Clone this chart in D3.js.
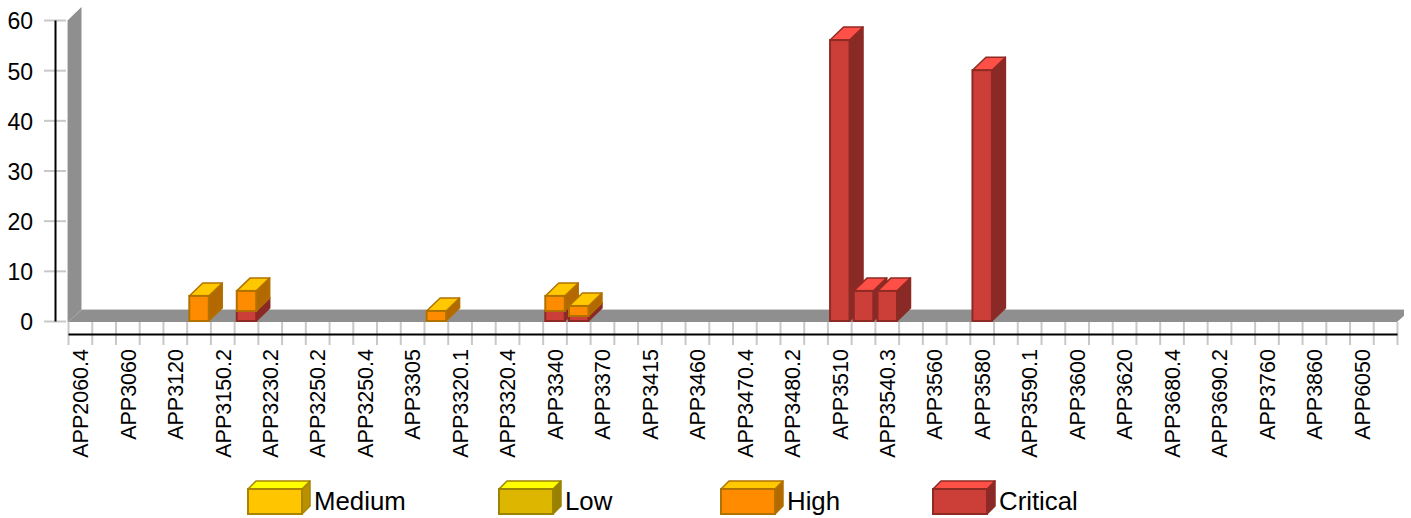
<!DOCTYPE html>
<html>
<head>
<meta charset="utf-8">
<script src="https://cdn.jsdelivr.net/npm/d3@7"></script>
<style>
  html, body { margin: 0; background: #fff; }
  svg { display: block; font-family: "Liberation Sans", Arial, sans-serif; }
</style>
</head>
<body>
<div id="chart"></div>
<script>
// labels shown on the axis, one on every second category
const tickLabels = [
  "APP2060.4", "APP3060", "APP3120", "APP3150.2", "APP3230.2", "APP3250.2", "APP3250.4",
  "APP3305", "APP3320.1", "APP3320.4", "APP3340", "APP3370", "APP3415", "APP3460",
  "APP3470.4", "APP3480.2", "APP3510", "APP3540.3", "APP3560", "APP3580", "APP3590.1",
  "APP3600", "APP3620", "APP3680.4", "APP3690.2", "APP3760", "APP3860", "APP6050",
];
const yTicks = [0, 10, 20, 30, 40, 50, 60];

// values per category slot (56 slots)
const critical = [
  0, 0, 0, 0, 0, 0, 0, 2, 0, 0, 0, 0, 0, 0, 0, 0, 0, 0, 0, 0, 2, 1, 0, 0, 0, 0, 0, 0,
  0, 0, 0, 0, 56, 6, 6, 0, 0, 0, 50, 0, 0, 0, 0, 0, 0, 0, 0, 0, 0, 0, 0, 0, 0, 0, 0, 0,
];
const high = [
  0, 0, 0, 0, 0, 5, 0, 4, 0, 0, 0, 0, 0, 0, 0, 2, 0, 0, 0, 0, 3, 2, 0, 0, 0, 0, 0, 0,
  0, 0, 0, 0, 0, 0, 0, 0, 0, 0, 0, 0, 0, 0, 0, 0, 0, 0, 0, 0, 0, 0, 0, 0, 0, 0, 0, 0,
];

// legend order, Medium and Low have no bars here
const legendNames = ["Medium", "Low", "High", "Critical"];
const legendX = [248, 499, 721, 933];

const palette = {
  Medium: { front: "#ffc600", top: "#ffff00", side: "#b89000", line: "#a88400" },
  Low: { front: "#ddb600", top: "#ffff00", side: "#988000", line: "#9c8300" },
  High: { front: "#ff8c00", top: "#ffc800", side: "#b36800", line: "#b27200" },
  Critical: { front: "#cc3f38", top: "#ff5048", side: "#8a2a26", line: "#8e2a24" },
};

const width = 1404, height = 518;
const depth = 13.5, rise = 13;
const slots = critical.length;

const svg = d3.select("#chart").append("svg").attr("width", width).attr("height", height);

const y = d3.scaleLinear().domain([0, 60]).range([321, 20]);
const xEdge = d3.scaleLinear().domain([0, slots]).range([68, 1397]);
const x = d3.scaleBand().domain(d3.range(slots)).range([68.5, 1397.5]).paddingInner(0.18).paddingOuter(0.09);

const poly = (pts) => pts.map((p) => p.join(",")).join(" ");

// gray wall and floor
const wall = svg.append("g");
wall.append("polygon")
  .attr("fill", "#8f8f8f")
  .attr("points", poly([[68, y(60)], [68 + depth, y(60) - rise], [68 + depth, 310], [68, 322]]));
wall.append("polygon")
  .attr("fill", "#8f8f8f")
  .attr("points", poly([[68, 322], [68 + depth, 310], [1397 + depth, 310], [1397, 322]]));
wall.append("line")
  .attr("x1", 82).attr("x2", 1411).attr("y1", 309.5).attr("y2", 309.5)
  .attr("stroke", "#cfcfcf").attr("stroke-width", 1);
wall.append("line")
  .attr("x1", 67.5).attr("x2", 67.5).attr("y1", y(60)).attr("y2", 322)
  .attr("stroke", "#cfcfcf").attr("stroke-width", 1);

// y axis
const yAxis = svg.append("g")
  .attr("transform", "translate(55,0)")
  .call(d3.axisLeft(y).tickValues(yTicks).tickSize(0).tickPadding(22));
yAxis.select(".domain").attr("stroke", "#000").attr("stroke-width", 2);
yAxis.selectAll(".tick line")
  .attr("x1", -11).attr("x2", 11)
  .attr("stroke", "#c8c8c8").attr("stroke-width", 2);
yAxis.selectAll(".domain").raise();
yAxis.selectAll("text")
  .attr("font-family", "Liberation Sans, Arial, sans-serif")
  .attr("font-size", 23)
  .attr("dy", "0.39em")
  .attr("fill", "#000");

// x axis: ticks on the slot edges
const xAxis = svg.append("g")
  .attr("transform", "translate(0,334)")
  .call(d3.axisBottom(xEdge).tickValues(d3.range(slots + 1)).tickSize(0).tickFormat(""));
xAxis.selectAll(".tick line")
  .attr("y1", -12).attr("y2", 11)
  .attr("stroke", "#c8c8c8").attr("stroke-width", 2);
xAxis.select(".domain").attr("stroke", "#000").attr("stroke-width", 2).raise();

// x labels
svg.append("g").selectAll("text")
  .data(tickLabels)
  .join("text")
  .attr("transform", (d, i) => `translate(${x(i * 2) + x.bandwidth() / 2},349) rotate(-90)`)
  .attr("text-anchor", "end")
  .attr("dy", "0.36em")
  .attr("font-size", 21.5)
  .attr("fill", "#000")
  .text((d) => d);

const box = (g, x0, w, yTop, yBottom, c, dx, dy) => {
  g.append("polygon")
    .attr("fill", c.side).attr("stroke", c.line).attr("stroke-width", 1.5)
    .attr("stroke-linejoin", "round")
    .attr("points", poly([[x0 + w, yTop], [x0 + w + dx, yTop - dy], [x0 + w + dx, yBottom - dy], [x0 + w, yBottom]]));
  g.append("polygon")
    .attr("fill", c.top).attr("stroke", c.line).attr("stroke-width", 1.5)
    .attr("stroke-linejoin", "round")
    .attr("points", poly([[x0, yTop], [x0 + dx, yTop - dy], [x0 + w + dx, yTop - dy], [x0 + w, yTop]]));
  g.append("rect")
    .attr("x", x0).attr("y", yTop).attr("width", w).attr("height", yBottom - yTop)
    .attr("fill", c.front).attr("stroke", c.line).attr("stroke-width", 2);
};

// bars, stacked critical first, left to right so nearer sides overlap
const bars = svg.append("g");
d3.range(slots).forEach((i) => {
  let total = 0;
  [["Critical", critical[i]], ["High", high[i]]].forEach(([name, v]) => {
    if (!v) return;
    box(bars, x(i), x.bandwidth(), y(total + v), y(total), palette[name], depth, rise);
    total += v;
  });
});

// legend
const legend = svg.append("g");
legendNames.forEach((name, i) => {
  box(legend, legendX[i], 54, 489, 514, palette[name], 8, 8);
  legend.append("text")
    .attr("x", legendX[i] + 66)
    .attr("y", 509.5)
    .attr("font-size", 25.8)
    .attr("fill", "#000")
    .text(name);
});
</script>
</body>
</html>
